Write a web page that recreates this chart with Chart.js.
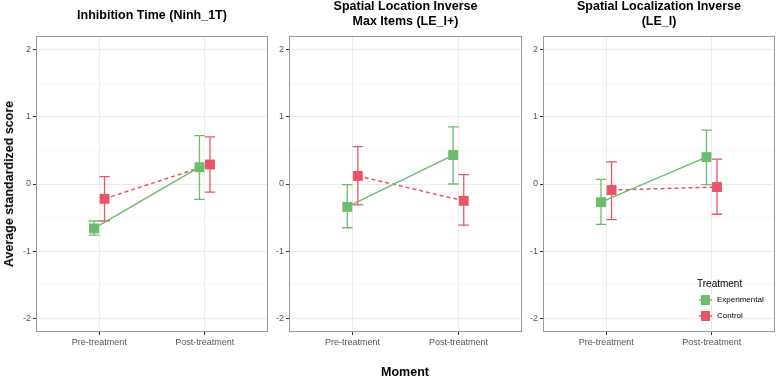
<!DOCTYPE html>
<html>
<head>
<meta charset="utf-8">
<script src="https://cdn.jsdelivr.net/npm/chart.js@4.4.0/dist/chart.umd.min.js"></script>
<style>
  body { margin: 0; background: #fff; font-family: "Liberation Sans", Arial, sans-serif; }
  #wrap { position: relative; width: 776px; height: 377px; overflow: hidden; }
  canvas { position: absolute; top: 0; }
  .ptitle { position: absolute; font-weight: bold; font-size: 12.5px; color: #000; text-align: center; line-height: 15px; white-space: nowrap; transform: translateX(-50%); }
  .ytitle { position: absolute; left: 9px; top: 184px; font-weight: bold; font-size: 12.5px; transform: translate(-50%, -50%) rotate(-90deg); white-space: nowrap; }
  .xtitle { position: absolute; left: 405px; top: 372px; font-weight: bold; font-size: 12.5px; transform: translate(-50%, -50%); }
  .legend { position: absolute; left: 697px; top: 276px; font-size: 10px; color: #000; }
  .legend .item { position: relative; height: 16px; margin-left: 0; font-size: 8px; line-height: 16px; padding-left: 20px; }
  .legend .mk { position: absolute; left: 2px; top: 3px; width: 13px; height: 10px; }
</style>
</head>
<body>
<div id="wrap"></div>
<script>
"use strict";
const moments = ["Pre-treatment", "Post-treatment"];
const groups = ["Experimental", "Control"];
const panelTitles = [
  ["Inhibition Time (Ninh_1T)"],
  ["Spatial Location Inverse", "Max Items (LE_I+)"],
  ["Spatial Localization Inverse", "(LE_I)"],
];
const expMean = [[-0.66, 0.25], [-0.34, 0.43], [-0.27, 0.40]];
const expLow = [[-0.76, -0.23], [-0.65, 0.0], [-0.60, -0.01]];
const expHigh = [[-0.55, 0.72], [-0.01, 0.85], [0.07, 0.80]];
const ctlMean = [[-0.22, 0.29], [0.12, -0.25], [-0.09, -0.045]];
const ctlLow = [[-0.55, -0.12], [-0.31, -0.61], [-0.53, -0.45]];
const ctlHigh = [[0.11, 0.70], [0.555, 0.14], [0.33, 0.37]];
const yTicks = [-2, -1, 0, 1, 2];

const green = "rgb(108,189,110)";
const red = "rgb(234,84,104)";
const dodge = 0.05;
const panelLeft = [36, 289, 543];
const panelRight = [268, 522, 775];

const wrap = document.getElementById("wrap");

const errorBars = {
  id: "errorBars",
  beforeDatasetsDraw(chart) {
    const c = chart.ctx;
    const xs = chart.scales.x, ys = chart.scales.y;
    chart.data.datasets.forEach(function (ds) {
      c.save();
      c.strokeStyle = ds.borderColor;
      c.lineWidth = 1.3;
      ds.data.forEach(function (p, i) {
        const x = xs.getPixelForValue(p.x);
        const x0 = xs.getPixelForValue(p.x - dodge);
        const x1 = xs.getPixelForValue(p.x + dodge);
        const lo = ys.getPixelForValue(ds.low[i]);
        const hi = ys.getPixelForValue(ds.high[i]);
        c.beginPath();
        c.moveTo(x, lo); c.lineTo(x, hi);
        c.moveTo(x0, lo); c.lineTo(x1, lo);
        c.moveTo(x0, hi); c.lineTo(x1, hi);
        c.stroke();
      });
      c.restore();
    });
  },
  afterDraw(chart) {
    const a = chart.chartArea, c = chart.ctx;
    c.save();
    c.strokeStyle = "#9a9a9a";
    c.lineWidth = 1;
    c.strokeRect(a.left + 0.5, a.top + 0.5, a.right - a.left - 1, a.bottom - a.top - 1);
    c.restore();
  },
};

function pts(vals, shift) {
  return vals.map(function (v, i) { return { x: i + 1 + shift, y: v }; });
}

for (let p = 0; p < 3; p++) {
  const cv = document.createElement("canvas");
  const w = panelRight[p] - panelLeft[p] + 36 + 1;
  cv.width = w;
  cv.height = 377;
  cv.style.left = (panelLeft[p] - 36) + "px";
  wrap.appendChild(cv);

  const t = document.createElement("div");
  t.className = "ptitle";
  t.style.left = ((panelLeft[p] + panelRight[p]) / 2) + "px";
  t.style.top = panelTitles[p].length === 1 ? "8px" : "-1px";
  t.innerHTML = panelTitles[p].join("<br>");
  wrap.appendChild(t);

  new Chart(cv, {
    type: "line",
    data: {
      datasets: [
        {
          label: groups[0],
          data: pts(expMean[p], -dodge),
          low: expLow[p],
          high: expHigh[p],
          borderColor: green,
          backgroundColor: green,
          borderWidth: 1.5,
          pointStyle: "rect",
          pointRadius: 7,
          pointBorderWidth: 0,
        },
        {
          label: groups[1],
          data: pts(ctlMean[p], dodge),
          low: ctlLow[p],
          high: ctlHigh[p],
          borderColor: red,
          backgroundColor: red,
          borderWidth: 1.5,
          borderDash: [4, 3],
          pointStyle: "rect",
          pointRadius: 7,
          pointBorderWidth: 0,
        },
      ],
    },
    options: {
      responsive: false,
      animation: false,
      layout: { autoPadding: false, padding: { top: 36, right: 1, bottom: 25, left: 0 } },
      plugins: { legend: { display: false }, tooltip: { enabled: false } },
      scales: {
        x: {
          type: "linear",
          min: 0.4,
          max: 2.6,
          afterBuildTicks: function (s) { s.ticks = [{ value: 1 }, { value: 2 }]; },
          afterFit: function (s) { s.height = 20; s.paddingLeft = 0; s.paddingRight = 0; },
          ticks: {
            autoSkip: false,
            maxRotation: 0,
            padding: 2,
            color: "#555",
            font: { family: "Liberation Sans", size: 9 },
            callback: function (v) { return moments[v - 1]; },
          },
          grid: { color: "#ebebeb", tickColor: "#333", tickLength: 3 },
          border: { display: false },
        },
        y: {
          min: -2.2,
          max: 2.2,
          afterBuildTicks: function (s) {
            const t = [];
            for (let v = -2; v <= 2; v += 0.5) t.push({ value: v });
            s.ticks = t;
          },
          afterFit: function (s) { s.width = 36; s.paddingTop = 0; s.paddingBottom = 0; },
          ticks: {
            autoSkip: false,
            padding: 2,
            color: "#555",
            font: { family: "Liberation Sans", size: 9 },
            callback: function (v) { return yTicks.indexOf(v) >= 0 ? String(v) : ""; },
          },
          grid: {
            color: function (c) { return c.tick && c.tick.value % 1 === 0 ? "#ebebeb" : "#f6f6f6"; },
            tickColor: function (c) { return c.tick && c.tick.value % 1 === 0 ? "#333" : "rgba(0,0,0,0)"; },
            tickLength: 3,
          },
          border: { display: false },
        },
      },
    },
    plugins: [errorBars],
  });
}

const yt = document.createElement("div");
yt.className = "ytitle";
yt.textContent = "Average standardized score";
wrap.appendChild(yt);

const xt = document.createElement("div");
xt.className = "xtitle";
xt.textContent = "Moment";
wrap.appendChild(xt);

const lg = document.createElement("div");
lg.className = "legend";
let html = "<div style='height:16px;line-height:16px'>Treatment</div>";
[green, red].forEach(function (col, i) {
  html += "<div class='item'><svg class='mk' width='13' height='10'>" +
    "<line x1='0' y1='5' x2='13' y2='5' stroke='" + col + "' stroke-width='1.5'/>" +
    "<rect x='2' y='0' width='9' height='10' fill='" + col + "'/></svg>" + groups[i] + "</div>";
});
lg.innerHTML = html;
wrap.appendChild(lg);
</script>
</body>
</html>
